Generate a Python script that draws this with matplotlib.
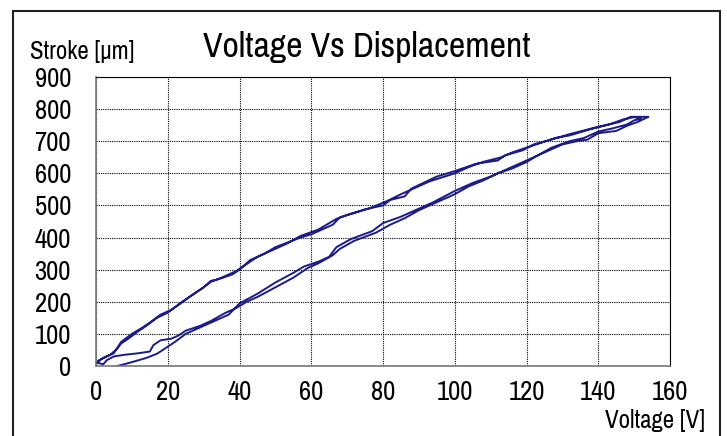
import matplotlib
matplotlib.use("Agg")
from matplotlib import pyplot as plt
from matplotlib.patches import Rectangle

# cycle 1 - rising voltage (lower branch)
volt_up1 = [6, 10, 14, 17, 20, 22, 25, 30, 33, 37, 40, 45, 50, 55, 58, 62, 65, 67, 71,
            77, 80, 85, 90, 94, 100, 105, 110, 113, 120, 124, 126, 130, 134, 137, 140,
            145, 148, 151, 154]
disp_up1 = [0, 12, 25, 38, 60, 75, 100, 125, 140, 160, 195, 225, 260, 290, 310, 325, 340,
            370, 395, 420, 445, 465, 490, 510, 545, 570, 590, 605, 640, 660, 670, 690, 700,
            705, 725, 732, 748, 760, 776]
# cycle 1 - falling voltage (upper branch)
volt_dn1 = [154, 149, 146, 140, 132, 126, 122, 119, 114, 112, 106, 100, 95, 88, 86, 82,
            80, 75, 68, 66, 60, 57, 50, 47, 43, 40, 38, 34, 32, 30, 25, 24, 20, 17, 14, 12,
            9, 7, 6, 4, 2, 0]
disp_dn1 = [776, 776, 760, 745, 722, 702, 690, 672, 656, 640, 630, 607, 590, 553, 528, 517,
            500, 488, 463, 440, 410, 400, 370, 350, 330, 300, 285, 270, 265, 245, 207, 200,
            166, 150, 125, 110, 85, 70, 55, 35, 25, 12]
# cycle 2 - rising voltage
volt_up2 = [0, 2, 3, 5, 8, 12, 15, 16, 18, 21, 23, 25, 29, 32, 36, 39, 42, 45, 50, 55, 59,
            62, 66, 68, 72, 78, 82, 86, 90, 96, 100, 104, 108, 112, 116, 120, 123, 127, 132,
            136, 140, 144, 148, 150, 152]
disp_up2 = [12, 5, 18, 30, 35, 40, 45, 65, 80, 85, 95, 110, 125, 140, 165, 180, 200, 215,
            245, 275, 305, 320, 345, 365, 390, 415, 440, 460, 485, 515, 535, 560, 578, 600,
            615, 635, 655, 680, 700, 710, 730, 740, 752, 765, 770]
# cycle 2 - falling voltage
volt_dn2 = [152, 150, 147, 143, 138, 132, 128, 124, 120, 116, 113, 108, 104, 100, 93, 89,
            85, 81, 76, 70, 67, 62, 57, 53, 48, 45, 41, 39, 35, 32, 30, 26, 24, 21, 18, 15,
            13, 10, 7, 5, 3, 1, 0]
disp_dn2 = [770, 775, 768, 752, 738, 718, 710, 695, 680, 665, 650, 636, 620, 600, 575, 555,
            535, 513, 490, 470, 458, 425, 405, 380, 355, 340, 310, 295, 275, 262, 245, 215,
            198, 175, 160, 135, 120, 100, 75, 40, 30, 18, 5]

volts = volt_up1 + volt_dn1 + volt_up2 + volt_dn2
disps = disp_up1 + disp_dn1 + disp_up2 + disp_dn2

font = ['Pragati Narrow', 'Archivo Narrow', 'DejaVu Sans']
plt.rcParams['font.family'] = font

fig = plt.figure(figsize=(7.27, 4.36), dpi=100)
ax = fig.add_axes([96 / 727, 70 / 436, 574 / 727, 289 / 436])

ax.plot(volts, disps, color='#1c1c88', linewidth=1.4)

ax.set_xlim(0, 160)
ax.set_ylim(0, 900)
ax.set_xticks(range(0, 161, 20))
ax.set_yticks(range(0, 901, 100))
ax.grid(True, color='black', linestyle=(0, (1, 1)), linewidth=0.8)
ax.tick_params(length=0, labelsize=21, colors='black')
ax.tick_params(axis='y', pad=18)
ax.tick_params(axis='x', pad=10)

for side in ['left', 'bottom']:
    ax.spines[side].set_color('#777777')
    ax.spines[side].set_linewidth(1.2)
for side in ['top', 'right']:
    ax.spines[side].set_color('black')
    ax.spines[side].set_linestyle((0, (1, 1)))
    ax.spines[side].set_linewidth(0.8)

fig.text(367 / 727, 1 - 57 / 436, 'Voltage Vs Displacement', fontsize=28,
         ha='center', va='baseline')
fig.text(30 / 727, 1 - 59 / 436, 'Stroke [\u00b5m]', fontsize=19.5,
         ha='left', va='baseline')
fig.text(705 / 727, 1 - 428 / 436, 'Voltage [V]', fontsize=19.5,
         ha='right', va='baseline')

# outer frame
fig.patches.append(Rectangle((13 / 727, -0.05), 707 / 727, 1.05 - 11 / 436,
                             transform=fig.transFigure, fill=False,
                             edgecolor='#222222', linewidth=1.5))

fig.savefig('out.png', dpi=100)
